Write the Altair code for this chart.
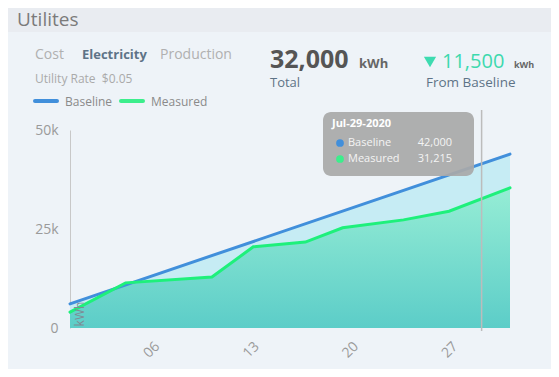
import altair as alt
import pandas as pd

FONT = "Open Sans"

# ---- data ----
measured_dates = ["2020-06-30T00:00Z", "2020-07-03T22:00Z", "2020-07-10T00:00Z",
                  "2020-07-12T22:00Z", "2020-07-16T14:00Z", "2020-07-19T05:00Z",
                  "2020-07-23T12:00Z", "2020-07-26T17:00Z", "2020-07-31T00:00Z"]
measured_values = [4000, 11400, 12900, 20500, 21700, 25300, 27300, 29500, 35400]

baseline_dates = ["2020-06-30T00:00Z", "2020-07-31T00:00Z"]
baseline_values = [6100, 43900]

hover_date = ["2020-07-29T00:00Z"]
x_tick_days = [6, 13, 20, 27]
y_ticks = [0, 25000, 50000]

tooltip_title = "Jul-29-2020"
tooltip_series = ["Baseline", "Measured"]
tooltip_values = ["42,000", "31,215"]

BLUE = "#418fdb"
GREEN = "#1ef07b"

meas = pd.DataFrame({"date": measured_dates, "kwh": measured_values})
base = pd.DataFrame({"date": baseline_dates, "kwh": baseline_values})
hover = pd.DataFrame({"date": hover_date})

xscale = alt.Scale(type="utc", domain=[alt.DateTime(year=2020, month=6, date=30, utc=True),
                                      alt.DateTime(year=2020, month=7, date=31, utc=True)])
yscale = alt.Scale(domain=[0, 50000], nice=False)

X = alt.X("date:T", scale=xscale,
          axis=alt.Axis(values=[alt.DateTime(year=2020, month=7, date=d, utc=True) for d in x_tick_days],
                        labelExpr="utcFormat(datum.value, '%d')", labelAngle=-45, labelAlign="right",
                        labelBaseline="top", labelPadding=11, labelOffset=-3, labelFontSize=14,
                        labelColor="#9a9a9a",
                        labelFont=FONT, domain=False, ticks=False, grid=False, title=None))
Y = alt.Y("kwh:Q", scale=yscale,
          axis=alt.Axis(values=y_ticks,
                        labelExpr="datum.value == 0 ? '0' : (datum.value / 1000) + 'k'",
                        labelFontSize=14, labelColor="#9a9a9a",
                        labelFont=FONT, labelPadding=12, ticks=False, grid=False,
                        domain=True, domainColor="#c8c8c8", domainWidth=1, title=None))

base_area = alt.Chart(base).mark_area(color="#c6ecf4").encode(x=X, y=Y)
meas_area = alt.Chart(meas).mark_area(
    color=alt.Gradient(gradient="linear", x1=0, y1=0, x2=0, y2=1,
                       stops=[alt.GradientStop(offset=0, color="#96edd5"),
                              alt.GradientStop(offset=1, color="#5ccdc8")])
).encode(x=X, y=Y)
base_line = alt.Chart(base).mark_line(color=BLUE, strokeWidth=3, strokeCap="round").encode(x=X, y=Y)
meas_line = alt.Chart(meas).mark_line(color=GREEN, strokeWidth=3, strokeCap="round").encode(x=X, y=Y)

rule = alt.Chart(hover).mark_rule(color="#bcbcbc", strokeWidth=1.5).encode(
    x=X, y=alt.value(-20), y2=alt.value(201))


def label(text, x, y, size=13, color="#aaaaaa", weight="normal", align="left", baseline="alphabetic"):
    return alt.Chart(pd.DataFrame({"t": [text]})).mark_text(
        align=align, baseline=baseline, fontSize=size, color=color, fontWeight=weight, font=FONT
    ).encode(x=alt.value(x), y=alt.value(y), text="t:N")


def hline(x1, x2, y, color):
    return alt.Chart(pd.DataFrame({"a": [0]})).mark_rule(
        color=color, strokeWidth=4, strokeCap="round"
    ).encode(x=alt.value(x1), x2=alt.value(x2), y=alt.value(y))


header_band = alt.Chart(pd.DataFrame({"a": [0]})).mark_rect(color="#e9ecf1").encode(
    x=alt.value(-62), x2=alt.value(481), y=alt.value(-122), y2=alt.value(-98))

tip_box = alt.Chart(pd.DataFrame({"a": [0]})).mark_rect(
    color="#a9a9a9", opacity=0.93, cornerRadius=8
).encode(x=alt.value(253), x2=alt.value(404), y=alt.value(-18), y2=alt.value(46))

tip_dots = alt.Chart(pd.DataFrame({"s": tooltip_series, "yy": [13, 29]})).mark_point(
    filled=True, shape="circle", size=60, opacity=1
).encode(x=alt.value(270), y=alt.Y("yy:Q", scale=None),
         color=alt.Color("s:N", scale=alt.Scale(domain=tooltip_series, range=[BLUE, "#3cee8c"]),
                         legend=None))

kwh_title = alt.Chart(pd.DataFrame({"t": ["kWh"]})).mark_text(
    align="center", baseline="middle", fontSize=12, color="#7f8a94", font=FONT, angle=270
).encode(x=alt.value(10), y=alt.value(184), text="t:N")

layers = [
    header_band,
    base_area, meas_area, base_line, meas_line, rule,
    tip_box, tip_dots,
    label(tooltip_title, 262, -3, size=11, color="#ffffff", weight="bold"),
    label(tooltip_series[0], 278, 13, size=11, color="#f4f4f4", baseline="middle"),
    label(tooltip_series[1], 278, 29, size=11, color="#f4f4f4", baseline="middle"),
    label(tooltip_values[0], 382, 13, size=11, color="#f4f4f4", align="right", baseline="middle"),
    label(tooltip_values[1], 382, 29, size=11, color="#f4f4f4", align="right", baseline="middle"),
    kwh_title,
    label("Utilites", -53, -104, size=19, color="#7b7b7b"),
    label("Cost", -35, -71, size=14, color="#b0b0b0"),
    label("Electricity", 12, -71, size=13, color="#5e7387", weight="bold"),
    label("Production", 90, -71, size=14, color="#b0b0b0"),
    label("Utility Rate\u00a0\u00a0$0.05", -35, -47, size=12, color="#aaaaaa"),
    hline(-35, -13, -29, BLUE),
    label("Baseline", -5, -24, size=12, color="#8a8a8a"),
    hline(51, 73, -29, "#3cee8c"),
    label("Measured", 81, -24, size=12, color="#8a8a8a"),
    label("32,000", 200, -62, size=25, color="#555555", weight="bold"),
    label("kWh", 289, -62, size=13, color="#666666", weight="bold"),
    label("Total", 200, -43, size=13, color="#5e7387"),
    alt.Chart(pd.DataFrame({"a": [0]})).mark_point(
        shape="triangle-down", filled=True, size=150, color="#3ddbb0", opacity=1
    ).encode(x=alt.value(360), y=alt.value(-68)),
    label("11,500", 372, -62, size=20, color="#3dd9ae"),
    label("kWh", 444, -62, size=9, color="#666666", weight="bold"),
    label("From Baseline", 356, -43, size=13.5, color="#5e7387"),
]

chart = alt.layer(*layers).properties(
    width=440, height=198,
    autosize=alt.AutoSizeParams(type="none"),
    padding={"left": 62, "top": 122, "right": 41, "bottom": 41},
    background="#eef3f8",
).configure_view(stroke=None)

chart.save("out.html", embed_options={"renderer": "svg", "actions": False})
